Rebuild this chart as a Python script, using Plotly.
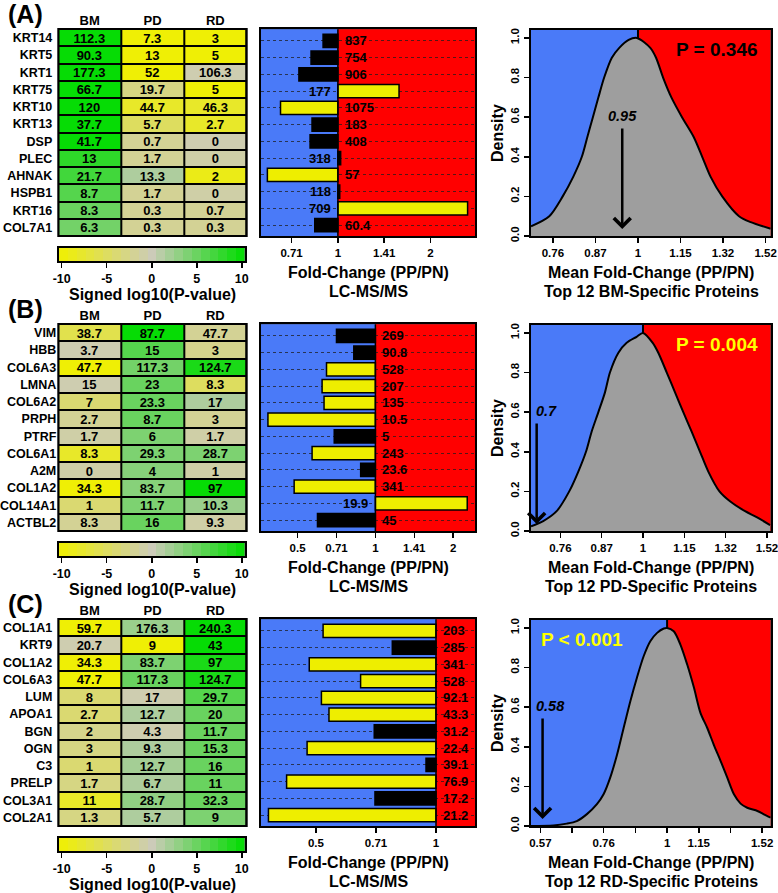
import numpy as np
import plotly.graph_objects as go

W, H = 778, 893
FONT = "Liberation Sans"
BLUE = "#4A7AF8"
RED = "#FF0000"
YEL = "#EEEE00"
GRAY = "#9E9E9E"


def fx(p):
    return p / W


def fy(p):
    return 1 - p / H


groups = ["BM", "PD", "RD"]

# ---------------- Panel A (BM-specific) ----------------
a_proteins = ["KRT14", "KRT5", "KRT1", "KRT75", "KRT10", "KRT13", "DSP", "PLEC", "AHNAK", "HSPB1", "KRT16", "COL7A1"]
a_bm = [112.3, 90.3, 177.3, 66.7, 120, 37.7, 41.7, 13, 21.7, 8.7, 8.3, 6.3]
a_pd = [7.3, 13, 52, 19.7, 44.7, 5.7, 0.7, 1.7, 13.3, 1.7, 0.3, 0.3]
a_rd = [3, 5, 106.3, 5, 46.3, 2.7, 0, 0, 2, 0, 0.7, 0.3]
a_bm_z = [10, 10, 10, 10, 10, 10, 10, 8, 7, 6, 5, 4.5]
a_pd_z = [-10, -10, -10, -3, -8, -5, -2, -2, 1.5, -2, -2, -2]
a_rd_z = [-10, -10, -0.5, -10, -8, -8, -0.5, -1, -9, -1, -2, -2]
a_fc = [0.895, 0.818, 0.747, 1.580, 0.651, 0.824, 0.812, 1.021, 0.590, 1.014, 2.639, 0.841]
a_sig = [0, 0, 0, 1, 1, 0, 0, 0, 1, 0, 1, 0]
a_counts = ["837", "754", "906", "177", "1075", "183", "408", "318", "57", "118", "709", "60.4"]
a_bar_tick_exp = [-0.5, 0, 0.5, 1]
a_bar_tick_txt = ["0.71", "1", "1.41", "2"]
a_bar_range = [-0.83, 1.48]
a_dens_log2fc = [-0.503, -0.417, -0.354, -0.304, -0.264, -0.238, -0.212, -0.186, -0.159, -0.123, -0.088, -0.044,
                 -0.005, 0.058, 0.085, 0.118, 0.157, 0.207, 0.262, 0.302, 0.341, 0.396, 0.475, 0.530, 0.624]
a_dens_y = [0.049, 0.10, 0.20, 0.30, 0.40, 0.50, 0.60, 0.70, 0.80, 0.90, 0.95, 0.99,
            1.0, 0.95, 0.90, 0.80, 0.70, 0.60, 0.50, 0.40, 0.30, 0.20, 0.10, 0.07, 0.037]
a_dens_range = [-0.503, 0.624]
a_dens_tick_exp = [-0.4, -0.2, 0, 0.2, 0.4, 0.6]
a_dens_tick_txt = ["0.76", "0.87", "1", "1.15", "1.32", "1.52"]
a_obs = 0.95
a_ptext = "P = 0.346"

# ---------------- Panel B (PD-specific) ----------------
b_proteins = ["VIM", "HBB", "COL6A3", "LMNA", "COL6A2", "PRPH", "PTRF", "COL6A1", "A2M", "COL1A2", "COL14A1", "ACTBL2"]
b_bm = [38.7, 3.7, 47.7, 15, 7, 2.7, 1.7, 8.3, 0, 34.3, 1, 8.3]
b_pd = [87.7, 15, 117.3, 23, 23.3, 8.7, 6, 29.3, 4, 83.7, 11.7, 16]
b_rd = [47.7, 3, 124.7, 8.3, 17, 3, 1.7, 28.7, 1, 97, 10.3, 9.3]
b_bm_z = [-6, -0.5, -10, -0.5, -4, -2, -1, -8, -1, -10, -4, -2]
b_pd_z = [10, 6, 4.5, 5, 5, 5, 4, 4, 3.5, 3.5, 4, 5]
b_rd_z = [-2, -2.5, 9, -5, 1.5, -2, -1, 4, -1, 10, 2.5, -1]
b_fc = [0.707, 0.825, 0.647, 0.622, 0.633, 0.384, 0.693, 0.569, 0.877, 0.485, 2.266, 0.597]
b_sig = [0, 0, 1, 1, 1, 1, 0, 1, 0, 1, 1, 0]
b_counts = ["269", "90.8", "528", "207", "135", "10.5", "5", "243", "23.6", "341", "19.9", "45"]
b_bar_tick_exp = [-1, -0.5, 0, 0.5, 1]
b_bar_tick_txt = ["0.5", "0.71", "1", "1.41", "2"]
b_bar_range = [-1.47, 1.28]
b_dens_log2fc = [-0.542, -0.483, -0.418, -0.357, -0.313, -0.276, -0.249, -0.216, -0.184, -0.160, -0.119, -0.079,
                 -0.031, 0.0, 0.047, 0.074, 0.115, 0.155, 0.195, 0.236, 0.276, 0.316, 0.370, 0.421, 0.494,
                 0.550, 0.615]
b_dens_y = [0.024, 0.05, 0.10, 0.20, 0.30, 0.40, 0.50, 0.60, 0.70, 0.80, 0.90, 0.95,
            0.98, 1.0, 0.95, 0.90, 0.80, 0.70, 0.60, 0.50, 0.40, 0.30, 0.20, 0.15, 0.10,
            0.07, 0.03]
b_dens_range = [-0.542, 0.618]
b_dens_tick_exp = [-0.4, -0.2, 0, 0.2, 0.4, 0.6]
b_dens_tick_txt = ["0.76", "0.87", "1", "1.15", "1.32", "1.52"]
b_obs = 0.7
b_ptext = "P = 0.004"

# ---------------- Panel C (RD-specific) ----------------
c_proteins = ["COL1A1", "KRT9", "COL1A2", "COL6A3", "LUM", "APOA1", "BGN", "OGN", "C3", "PRELP", "COL3A1", "COL2A1"]
c_bm = [59.7, 20.7, 34.3, 47.7, 8, 2.7, 2, 3, 1, 1.7, 11, 1.3]
c_pd = [176.3, 9, 83.7, 117.3, 17, 12.7, 4.3, 9.3, 12.7, 6.7, 28.7, 5.7]
c_rd = [240.3, 43, 97, 124.7, 29.7, 20, 11.7, 15.3, 16, 11, 32.3, 9]
c_bm_z = [-10, -0.5, -10, -10, -4, -4, -2.5, -3, -4, -3, -8, -3]
c_pd_z = [2.5, -10, 4, 5, -0.5, 1.5, -0.5, 1.5, 2, 1.5, 3, 1.5]
c_rd_z = [10, 10, 9, 9, 6, 5, 5, 5, 5, 5, 5, 4]
c_fc = [0.521, 0.777, 0.481, 0.647, 0.516, 0.539, 0.700, 0.475, 0.944, 0.422, 0.703, 0.380]
c_sig = [1, 0, 1, 1, 1, 1, 0, 1, 0, 1, 0, 1]
c_counts = ["203", "285", "341", "528", "92.1", "43.3", "31.2", "22.4", "39.1", "76.9", "17.2", "21.2"]
c_bar_tick_exp = [-1, -0.5, 0]
c_bar_tick_txt = ["0.5", "0.71", "1"]
c_bar_range = [-1.458, 0.325]
c_dens_log2fc = [-0.859, -0.718, -0.633, -0.570, -0.506, -0.443, -0.401, -0.359, -0.316, -0.274, -0.232, -0.190,
                 -0.148, -0.106, -0.063, -0.021, 0.0, 0.042, 0.084, 0.127, 0.169, 0.211, 0.253, 0.295, 0.338,
                 0.380, 0.422, 0.464, 0.506, 0.570, 0.611, 0.654]
c_dens_y = [0.0, 0.003, 0.012, 0.025, 0.06, 0.11, 0.16, 0.244, 0.36, 0.496, 0.63, 0.75,
            0.857, 0.933, 0.975, 0.997, 1.0, 0.983, 0.916, 0.815, 0.70, 0.57, 0.496, 0.41, 0.328,
            0.244, 0.16, 0.113, 0.092, 0.076, 0.059, 0.042]
c_dens_range = [-0.859, 0.654]
c_dens_tick_exp = [-0.8, -0.6, -0.4, -0.2, 0, 0.2, 0.4, 0.6]
c_dens_tick_txt = ["0.57", "", "0.76", "", "1", "1.15", "", "1.52"]
c_obs = 0.58
c_ptext = "P < 0.001"

density_ticks = [0.0, 0.2, 0.4, 0.6, 0.8, 1.0]
density_tick_txt = ["0.0", "0.2", "0.4", "0.6", "0.8", "1.0"]
cbar_ticks = [-10, -5, 0, 5, 10]
cbar_tick_txt = ["-10", "-5", "0", "5", "10"]
ZLIM = 10.3
# colour key: 21 equal steps across the signed log10(P) scale
cbar_steps = np.linspace(-ZLIM, ZLIM, 22)
cbar_centers = (cbar_steps[:-1] + cbar_steps[1:]) / 2

panels = [
    dict(letter="(A)", prot=a_proteins, bm=a_bm, pd=a_pd, rd=a_rd, zb=a_bm_z, zp=a_pd_z, zr=a_rd_z,
         fc=a_fc, sig=a_sig, counts=a_counts, bte=a_bar_tick_exp, btt=a_bar_tick_txt, brange=a_bar_range,
         dx=a_dens_log2fc, dy=a_dens_y, drange=a_dens_range, dte=a_dens_tick_exp, dtt=a_dens_tick_txt,
         obs=a_obs, ptext=a_ptext, pcolor="black", ppos=(717, 50), obs_shift=0, title="Top 12 BM-Specific Proteins",
         standoff=5),
    dict(letter="(B)", prot=b_proteins, bm=b_bm, pd=b_pd, rd=b_rd, zb=b_bm_z, zp=b_pd_z, zr=b_rd_z,
         fc=b_fc, sig=b_sig, counts=b_counts, bte=b_bar_tick_exp, btt=b_bar_tick_txt, brange=b_bar_range,
         dx=b_dens_log2fc, dy=b_dens_y, drange=b_dens_range, dte=b_dens_tick_exp, dtt=b_dens_tick_txt,
         obs=b_obs, ptext=b_ptext, pcolor="#FFFF00", ppos=(717, 49), obs_shift=10, title="Top 12 PD-Specific Proteins",
         standoff=1),
    dict(letter="(C)", prot=c_proteins, bm=c_bm, pd=c_pd, rd=c_rd, zb=c_bm_z, zp=c_pd_z, zr=c_rd_z,
         fc=c_fc, sig=c_sig, counts=c_counts, bte=c_bar_tick_exp, btt=c_bar_tick_txt, brange=c_bar_range,
         dx=c_dens_log2fc, dy=c_dens_y, drange=c_dens_range, dte=c_dens_tick_exp, dtt=c_dens_tick_txt,
         obs=c_obs, ptext=c_ptext, pcolor="#FFFF00", ppos=(582, 49), obs_shift=8, title="Top 12 RD-Specific Proteins",
         standoff=5),
]

colorscale = [[0.0, "#F0F000"], [0.5, "#CCCBB9"], [1.0, "#00DC00"]]


def bfont(size, color="black", style="normal"):
    return dict(family=FONT, size=size, color=color, weight="bold", style=style)


fig = go.Figure()
layout = {}
annotations = []
shapes = []


def sfx(i):
    return "" if i == 1 else str(i)


for k, P in enumerate(panels):
    off = 295 * k
    ih, ib, idn, ic = 4 * k + 1, 4 * k + 2, 4 * k + 3, 4 * k + 4
    xh, yh = "x" + sfx(ih), "y" + sfx(ih)
    xb, yb = "x" + sfx(ib), "y" + sfx(ib)
    xd, yd = "x" + sfx(idn), "y" + sfx(idn)
    xc, yc = "x" + sfx(ic), "y" + sfx(ic)

    # ---------- heatmap ----------
    z = np.array([P["zb"], P["zp"], P["zr"]]).T
    txt = np.array([[f"{v:g}" for v in P["bm"]], [f"{v:g}" for v in P["pd"]], [f"{v:g}" for v in P["rd"]]]).T
    fig.add_trace(go.Heatmap(
        z=z, x=groups, y=P["prot"], text=txt, texttemplate="%{text}", textfont=bfont(13),
        colorscale=colorscale, zmin=-ZLIM, zmax=ZLIM, xgap=2, ygap=2, hoverinfo="skip",
        xaxis=xh, yaxis=yh, showscale=False,
    ))
    layout["xaxis" + sfx(ih)] = dict(domain=[fx(58.3), fx(246.7)], anchor=yh, side="top", ticks="",
                                     tickfont=bfont(13), showgrid=False, zeroline=False, showline=False,
                                     automargin=False)
    layout["yaxis" + sfx(ih)] = dict(domain=[fy(236 + off), fy(29 + off)], anchor=xh, autorange="reversed",
                                     ticks="", tickfont=bfont(12.5), showgrid=False, zeroline=False,
                                     showline=False, ticklabelstandoff=P["standoff"], automargin=False)
    shapes.append(dict(type="rect", xref=xh + " domain", yref=yh + " domain", x0=0, x1=1, y0=0, y1=1,
                       line=dict(color="black", width=2), layer="above"))

    # ---------- colour key ----------
    fig.add_trace(go.Heatmap(
        z=[cbar_centers], x=cbar_centers, y=[0], colorscale=colorscale, zmin=-ZLIM, zmax=ZLIM,
        showscale=False, hoverinfo="skip", xaxis=xc, yaxis=yc,
    ))
    layout["xaxis" + sfx(ic)] = dict(domain=[fx(59), fx(244.5)], anchor=yc, range=[-ZLIM, ZLIM],
                                     tickvals=cbar_ticks, ticktext=cbar_tick_txt, ticks="outside", ticklen=5,
                                     tickwidth=1.5, tickcolor="black", tickfont=bfont(12.5), showline=True,
                                     mirror=True, linewidth=2, linecolor="black", showgrid=False,
                                     zeroline=False, automargin=False)
    layout["yaxis" + sfx(ic)] = dict(domain=[fy(261 + off), fy(248 + off)], anchor=xc, range=[-0.5, 0.5],
                                     showticklabels=False, ticks="", showgrid=False, zeroline=False,
                                     showline=True, mirror=True, linewidth=2, linecolor="black",
                                     automargin=False)
    annotations.append(dict(x=fx(152), y=fy(294 + off), xref="paper", yref="paper", text="Signed log10(P-value)",
                            showarrow=False, font=bfont(16), xanchor="center", yanchor="middle"))
    annotations.append(dict(x=fx(25), y=fy(14 + off), xref="paper", yref="paper", text=P["letter"],
                            showarrow=False, font=bfont(25), xanchor="center", yanchor="middle"))

    # ---------- bar panel ----------
    lfc = np.log2(np.array(P["fc"]))
    rows = list(range(len(lfc)))
    fig.add_trace(go.Bar(
        x=lfc, y=rows, orientation="h", width=0.8, xaxis=xb, yaxis=yb, hoverinfo="skip",
        marker=dict(color=[YEL if s else "black" for s in P["sig"]], line=dict(color="black", width=1.5)),
    ))
    br = P["brange"]
    layout["xaxis" + sfx(ib)] = dict(domain=[fx(261), fx(475)], anchor=yb, range=br, tickvals=P["bte"],
                                     ticktext=P["btt"], ticks="outside", ticklen=5, tickwidth=1.5,
                                     tickcolor="black", tickfont=bfont(11.5), showline=True, mirror=True,
                                     linewidth=2, linecolor="black", showgrid=False, zeroline=False,
                                     automargin=False)
    layout["yaxis" + sfx(ib)] = dict(domain=[fy(236 + off), fy(29.3 + off)], anchor=xb, range=[11.65, -0.69],
                                     tickvals=rows, showticklabels=False, ticks="", showgrid=True,
                                     gridcolor="rgba(30,30,30,0.75)", griddash="dot", gridwidth=1,
                                     showline=True, mirror=True, linewidth=2, linecolor="black", zeroline=False,
                                     automargin=False)
    shapes.append(dict(type="rect", xref=xb, yref=yb + " domain", x0=br[0], x1=0, y0=0, y1=1,
                       fillcolor=BLUE, line=dict(width=0), layer="below"))
    shapes.append(dict(type="rect", xref=xb, yref=yb + " domain", x0=0, x1=br[1], y0=0, y1=1,
                       fillcolor=RED, line=dict(width=0), layer="below"))
    shapes.append(dict(type="line", xref=xb, yref=yb + " domain", x0=0, x1=0, y0=0, y1=1,
                       line=dict(color="black", width=1.5), layer="above"))
    for i, (v, lab) in enumerate(zip(lfc, P["counts"])):
        left = v < 0
        annotations.append(dict(x=0, y=i, xref=xb, yref=yb, text=lab, showarrow=False, font=bfont(13),
                                xanchor="left" if left else "right", xshift=5 if left else -5,
                                yanchor="middle"))
    annotations.append(dict(x=fx(368), y=fy(272 + off), xref="paper", yref="paper", text="Fold-Change (PP/PN)",
                            showarrow=False, font=bfont(16), xanchor="center", yanchor="middle"))
    annotations.append(dict(x=fx(368), y=fy(291 + off), xref="paper", yref="paper", text="LC-MS/MS",
                            showarrow=False, font=bfont(16), xanchor="center", yanchor="middle"))

    # ---------- density panel ----------
    dr = P["drange"]
    shapes.append(dict(type="rect", xref=xd, yref=yd + " domain", x0=dr[0], x1=0, y0=0, y1=1,
                       fillcolor=BLUE, line=dict(width=0), layer="below"))
    shapes.append(dict(type="rect", xref=xd, yref=yd + " domain", x0=0, x1=dr[1], y0=0, y1=1,
                       fillcolor=RED, line=dict(width=0), layer="below"))
    shapes.append(dict(type="line", xref=xd, yref=yd, x0=0, x1=0, y0=0.97, y1=1.04,
                       line=dict(color="black", width=2), layer="below"))
    fig.add_trace(go.Scatter(
        x=P["dx"], y=P["dy"], mode="lines", line=dict(color="black", width=2, shape="spline", smoothing=0.8),
        fill="tozeroy", fillcolor=GRAY, xaxis=xd, yaxis=yd, hoverinfo="skip",
    ))
    layout["xaxis" + sfx(idn)] = dict(domain=[fx(531), fx(770.7)], anchor=yd, range=dr, tickvals=P["dte"],
                                      ticktext=P["dtt"], ticks="outside", ticklen=5, tickwidth=1.5,
                                      tickcolor="black", tickfont=bfont(11.5), showline=True, mirror=True,
                                      linewidth=2, linecolor="black", showgrid=False, zeroline=False,
                                      automargin=False, ticklabeloverflow="allow")
    layout["yaxis" + sfx(idn)] = dict(domain=[fy(236 + off), fy(30 + off)], anchor=xd, range=[0, 1.04],
                                      tickvals=density_ticks, ticktext=density_tick_txt, tickangle=-90,
                                      ticks="outside", ticklen=5, tickwidth=1.5, tickcolor="black",
                                      tickfont=bfont(11.5), showline=True, mirror=True, linewidth=2,
                                      linecolor="black", showgrid=False, zeroline=False, automargin=False)
    lobs = float(np.log2(P["obs"]))
    annotations.append(dict(x=lobs, y=0.035, ax=lobs, ay=0.55, xref=xd, yref=yd, axref=xd, ayref=yd,
                            text="", showarrow=True, arrowhead=4, arrowsize=1.3, arrowwidth=2.5,
                            arrowcolor="black", standoff=0, startstandoff=0))
    annotations.append(dict(x=lobs, y=0.605, xref=xd, yref=yd, text=f"{P['obs']:g}", showarrow=False,
                            font=bfont(14.5, style="italic"), xanchor="center", yanchor="middle",
                            xshift=P["obs_shift"]))
    annotations.append(dict(x=fx(P["ppos"][0]), y=fy(P["ppos"][1] + off), xref="paper", yref="paper",
                            text=P["ptext"], showarrow=False, font=bfont(19, color=P["pcolor"]),
                            xanchor="center", yanchor="middle"))
    annotations.append(dict(x=fx(497), y=fy(133 + off), xref="paper", yref="paper", text="Density",
                            textangle=-90, showarrow=False, font=bfont(16), xanchor="center", yanchor="middle"))
    annotations.append(dict(x=fx(651), y=fy(272.5 + off), xref="paper", yref="paper",
                            text="Mean Fold-Change (PP/PN)", showarrow=False, font=bfont(16),
                            xanchor="center", yanchor="middle"))
    annotations.append(dict(x=fx(651), y=fy(291 + off), xref="paper", yref="paper", text=P["title"],
                            showarrow=False, font=bfont(16), xanchor="center", yanchor="middle"))

fig.update_layout(
    width=W, height=H, margin=dict(l=0, r=0, t=0, b=0, autoexpand=False),
    paper_bgcolor="white", plot_bgcolor="black", showlegend=False,
    font=dict(family=FONT, color="black"),
    annotations=annotations, shapes=shapes, bargap=0,
    **layout,
)

fig.write_html("out.html", config={"displayModeBar": False, "staticPlot": True},
               post_script="document.body.style.margin='0';document.body.style.overflow='hidden';")
